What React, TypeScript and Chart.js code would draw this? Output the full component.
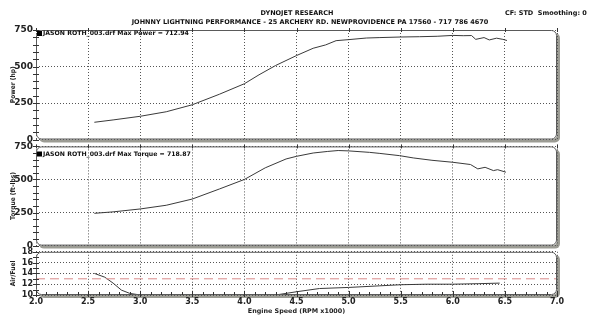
import React, { useEffect, useRef } from "react";
import { Chart, registerables } from "chart.js";

Chart.register(...registerables);

const FONT = "'DejaVu Sans', Verdana, sans-serif";
const FONT_COND = "'DejaVu Sans Condensed', 'DejaVu Sans', sans-serif";

const headerTitle = "DYNOJET RESEARCH";
const headerSubtitle =
  "JOHNNY LIGHTNING PERFORMANCE - 25 ARCHERY RD. NEWPROVIDENCE PA 17560 - 717 786 4670";
const headerRight = "CF: STD  Smoothing: 0";
const powerLegend = "JASON ROTH_003.drf Max Power = 712.94";
const torqueLegend = "JASON ROTH_003.drf Max Torque = 718.87";

const rpmMin = 2.0;
const rpmMax = 7.0;
const rpmStep = 0.5;

const powerRpm = [2.56, 2.74, 3.0, 3.25, 3.5, 3.76, 4.0, 4.14, 4.3, 4.5, 4.66, 4.78, 4.88, 5.0, 5.17, 5.3, 5.5, 5.68, 5.85, 6.0, 6.1, 6.18, 6.22, 6.3, 6.35, 6.42, 6.48, 6.52];
const powerHp = [118, 134, 159, 190, 238, 310, 382, 443, 507, 575, 625, 648, 677, 684, 695, 698, 702, 704, 707, 712.94, 711, 712, 686, 698, 682, 694, 686, 678];

const torqueRpm = [2.56, 2.74, 3.0, 3.25, 3.5, 3.76, 4.0, 4.2, 4.4, 4.5, 4.66, 4.8, 4.9, 5.0, 5.2, 5.3, 5.49, 5.62, 5.8, 6.0, 6.17, 6.24, 6.31, 6.39, 6.43, 6.51];
const torqueFtLbs = [244, 255, 277, 305, 352, 428, 500, 588, 655, 675, 700, 712, 718.87, 716, 705, 697, 680, 663, 645, 630, 613, 580, 592, 567, 574, 555];

const afrRpm = [2.56, 2.66, 2.74, 2.82, 2.9, 3.0, 3.6, 4.3, 4.5, 4.72, 5.0, 5.3, 5.5, 5.75, 6.0, 6.25, 6.45];
const afrValues = [14.0, 13.3, 12.2, 10.9, 10.3, 10.0, null, 10.0, 10.6, 11.2, 11.4, 11.7, 11.9, 12.0, 12.0, 12.1, 12.2];

const afrTargetRpm = [2.0, 7.0];
const afrTargetValues = [13, 13];

type PanelCfg = {
  top: number;
  height: number;
  padTop: number;
  padBottom: number;
  yMin: number;
  yMax: number;
  yStep: number;
  yMinor: number;
  yTitle: string;
  tickSize: number;
  showX: boolean;
  legend: string | null;
  legendOffset: number;
  header: boolean;
  datasets: any[];
};

function roundRect(ctx: CanvasRenderingContext2D, x: number, y: number, w: number, h: number, r: number) {
  ctx.beginPath();
  ctx.moveTo(x + r, y);
  ctx.lineTo(x + w - r, y);
  ctx.arcTo(x + w, y, x + w, y + r, r);
  ctx.lineTo(x + w, y + h - r);
  ctx.arcTo(x + w, y + h, x + w - r, y + h, r);
  ctx.lineTo(x + r, y + h);
  ctx.arcTo(x, y + h, x, y + h - r, r);
  ctx.lineTo(x, y + r);
  ctx.arcTo(x, y, x + r, y, r);
  ctx.closePath();
}

const framePlugin = {
  id: "dynoFrame",
  beforeDraw(chart: any) {
    const { ctx, chartArea: a } = chart;
    ctx.save();
    ctx.fillStyle = "#9c9c94";
    roundRect(ctx, a.left + 3, a.top + 3, a.right - a.left, a.bottom - a.top, 5);
    ctx.fill();
    ctx.fillStyle = "#ffffff";
    roundRect(ctx, a.left, a.top, a.right - a.left, a.bottom - a.top, 5);
    ctx.fill();
    ctx.restore();
  },
  afterDatasetsDraw(chart: any) {
    const { ctx, chartArea: a } = chart;
    const opts = chart.options.plugins.dynoFrame as any;
    ctx.save();
    ctx.strokeStyle = "#5a5a5a";
    ctx.lineWidth = 1;
    roundRect(ctx, a.left + 0.5, a.top + 0.5, a.right - a.left - 1, a.bottom - a.top - 1, 5);
    ctx.stroke();

    const ys = chart.scales.y;
    ctx.strokeStyle = "#333";
    ctx.beginPath();
    for (let v = opts.yMin; v <= opts.yMax + 1e-9; v += opts.yMinor) {
      const py = Math.round(ys.getPixelForValue(v)) + 0.5;
      ctx.moveTo(a.left - 3, py);
      ctx.lineTo(a.left + 3, py);
    }
    const xs = chart.scales.x;
    for (let v = rpmMin; v <= rpmMax + 1e-9; v += 0.1) {
      const px = Math.round(xs.getPixelForValue(v)) + 0.5;
      const major = Math.abs(v * 2 - Math.round(v * 2)) < 1e-6;
      if (opts.showX) {
        ctx.moveTo(px, a.bottom - (major ? 4 : 3));
        ctx.lineTo(px, a.bottom + (major ? 2 : 0));
      } else if (major) {
        ctx.moveTo(px, a.top - 2);
        ctx.lineTo(px, a.top + 2);
      }
    }
    ctx.stroke();

    if (opts.legend) {
      const ly = a.top + opts.legendOffset;
      ctx.fillStyle = "#000";
      ctx.fillRect(a.left + 1, ly - 2.5, 5, 5);
      ctx.fillStyle = "#111";
      ctx.font = `bold 6.2px ${FONT}`;
      ctx.textBaseline = "middle";
      ctx.textAlign = "left";
      ctx.fillText(opts.legend, a.left + 7, ly);
    }

    if (opts.header) {
      ctx.fillStyle = "#111";
      ctx.textBaseline = "middle";
      ctx.font = `bold 6.5px ${FONT}`;
      ctx.textAlign = "center";
      ctx.fillText(headerTitle, 297, 13);
      ctx.fillText(headerSubtitle, 310, 22);
      ctx.textAlign = "left";
      ctx.fillText(headerRight, 505, 13);
    }
    ctx.restore();
  },
};

function buildConfig(p: PanelCfg): any {
  return {
    type: "line",
    data: { datasets: p.datasets },
    options: {
      animation: false,
      responsive: false,
      events: [],
      layout: { padding: { top: p.padTop, bottom: p.padBottom, left: 0, right: 33 } },
      plugins: {
        legend: { display: false },
        tooltip: { enabled: false },
        dynoFrame: {
          yMin: p.yMin,
          yMax: p.yMax,
          yMinor: p.yMinor,
          showX: p.showX,
          legend: p.legend,
          legendOffset: p.legendOffset,
          header: p.header,
        },
      },
      scales: {
        x: {
          type: "linear",
          min: rpmMin,
          max: rpmMax,
          ticks: {
            stepSize: rpmStep,
            display: p.showX,
            padding: 2,
            autoSkip: false,
            maxRotation: 0,
            color: "#222",
            font: { family: FONT, size: 8, weight: "bold" },
            callback: (v: any) => Number(v).toFixed(1),
          },
          grid: { color: "#555", drawTicks: false, lineWidth: 1 },
          border: { display: false, dash: [1, 2] },
          title: {
            display: p.showX,
            text: "Engine Speed (RPM x1000)",
            color: "#222",
            font: { family: FONT, size: 6.4, weight: "bold" },
            padding: { top: 0, bottom: 10 },
          },
          afterFit: (s: any) => {
            s.height = p.showX ? 30 : 0;
          },
        },
        y: {
          type: "linear",
          min: p.yMin,
          max: p.yMax,
          ticks: {
            stepSize: p.yStep,
            padding: 3,
            autoSkip: false,
            color: "#222",
            font: { family: FONT, size: p.tickSize, weight: "bold" },
          },
          grid: { color: "#555", drawTicks: false, lineWidth: 1 },
          border: { display: false, dash: [1, 2] },
          title: {
            display: true,
            text: p.yTitle,
            color: "#222",
            font: { family: FONT_COND, size: 6.6, weight: "bold" },
            padding: { top: 9, bottom: 0 },
          },
          afterFit: (s: any) => {
            s.width = 36;
          },
        },
      },
    },
    plugins: [framePlugin],
  };
}

const lineStyle = {
  borderColor: "#3a3a3a",
  borderWidth: 1,
  pointRadius: 0,
  tension: 0,
  fill: false,
  spanGaps: false,
};

const panels: PanelCfg[] = [
  {
    top: 0,
    height: 150,
    padTop: 30,
    padBottom: 10.5,
    yMin: 0,
    yMax: 750,
    yStep: 250,
    yMinor: 50,
    yTitle: "Power (hp)",
    tickSize: 9,
    showX: false,
    legend: powerLegend,
    legendOffset: 3.5,
    header: true,
    datasets: [
      { ...lineStyle, label: "Power", data: powerRpm.map((r, i) => ({ x: r, y: powerHp[i] })) },
    ],
  },
  {
    top: 138,
    height: 117,
    padTop: 7.7,
    padBottom: 9.4,
    yMin: 0,
    yMax: 750,
    yStep: 250,
    yMinor: 50,
    yTitle: "Torque (ft-lbs)",
    tickSize: 9,
    showX: false,
    legend: torqueLegend,
    legendOffset: 7.6,
    header: false,
    datasets: [
      { ...lineStyle, label: "Torque", data: torqueRpm.map((r, i) => ({ x: r, y: torqueFtLbs[i] })) },
    ],
  },
  {
    top: 244,
    height: 81,
    padTop: 7.5,
    padBottom: 0,
    yMin: 10,
    yMax: 18,
    yStep: 2,
    yMinor: 1,
    yTitle: "Air/Fuel",
    tickSize: 8,
    showX: true,
    legend: null,
    legendOffset: 0,
    header: false,
    datasets: [
      {
        ...lineStyle,
        label: "Target",
        borderColor: "#d98a8a",
        borderDash: [9, 5],
        data: afrTargetRpm.map((r, i) => ({ x: r, y: afrTargetValues[i] })),
      },
      { ...lineStyle, label: "Air/Fuel", data: afrRpm.map((r, i) => ({ x: r, y: afrValues[i] })) },
    ],
  },
];

function Panel({ cfg }: { cfg: PanelCfg }) {
  const ref = useRef<HTMLCanvasElement | null>(null);
  useEffect(() => {
    if (!ref.current) return;
    const chart = new Chart(ref.current, buildConfig(cfg));
    return () => chart.destroy();
  }, [cfg]);
  return (
    <canvas
      ref={ref}
      width={590}
      height={cfg.height}
      style={{ position: "absolute", left: 0, top: cfg.top, width: 590, height: cfg.height }}
    />
  );
}

export default function App() {
  return (
    <div
      style={{
        position: "absolute",
        left: 0,
        top: 0,
        width: 590,
        height: 325,
        background: "#ffffff",
        overflow: "hidden",
      }}
    >
      {panels.map((p, i) => (
        <Panel key={i} cfg={p} />
      ))}
    </div>
  );
}
